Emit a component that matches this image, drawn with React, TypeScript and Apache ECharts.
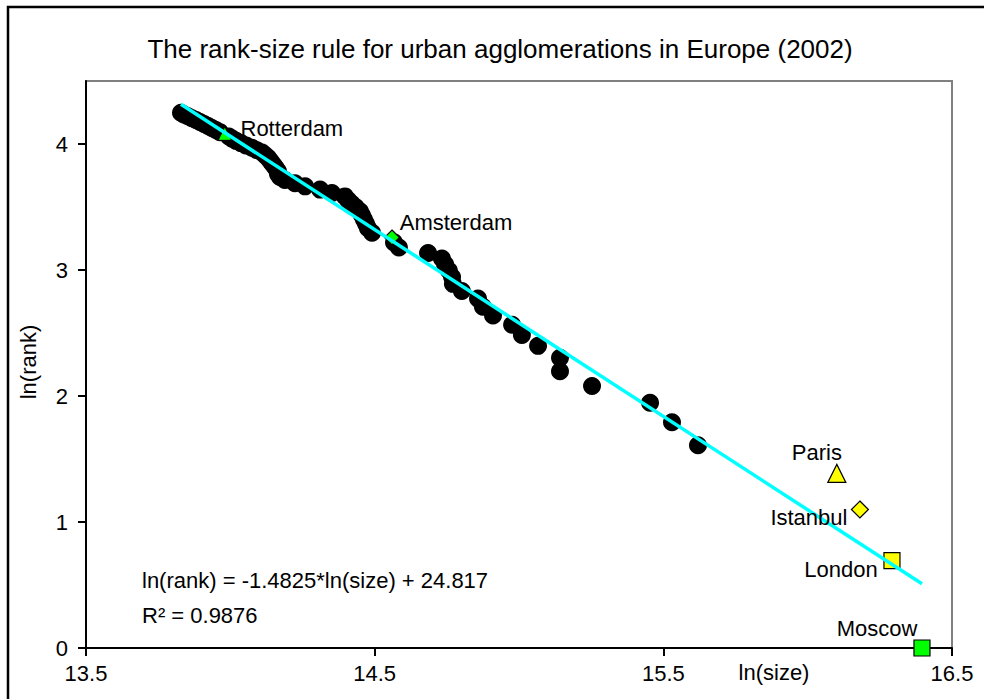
import React, { useEffect, useRef } from "react";
import * as echarts from "echarts";

// ---- data ----
const cityNames = ["Moscow", "London", "Istanbul", "Paris", "Amsterdam", "Rotterdam"];
const cityLnSize = [16.396, 16.292, 16.181, 16.101, 14.56, 13.981];
const cityLnRank = [0, 0.693, 1.099, 1.386, 3.258, 4.078];

const otherLnSize = [
  15.62, 15.53, 15.454, 15.253, 15.142, 15.142, 15.066, 15.01, 14.976, 14.91,
  14.875, 14.858, 14.802, 14.771, 14.768, 14.757, 14.744, 14.733, 14.685, 14.584,
  14.567, 14.491, 14.477, 14.47, 14.463, 14.456, 14.449, 14.435, 14.421, 14.408,
  14.397, 14.352, 14.311, 14.259, 14.224, 14.189, 14.172, 14.165, 14.165, 14.158,
  14.151, 14.144, 14.137, 14.13, 14.12, 14.11, 14.092, 14.075, 14.054, 14.037,
  14.02, 14.006, 13.995, 13.964, 13.95, 13.936, 13.923, 13.909, 13.895, 13.881,
  13.867, 13.853, 13.839, 13.829,
];
const otherLnRank = [
  1.609, 1.792, 1.946, 2.079, 2.197, 2.303, 2.398, 2.485, 2.565, 2.639,
  2.708, 2.773, 2.833, 2.89, 2.944, 2.996, 3.045, 3.091, 3.135, 3.178,
  3.219, 3.296, 3.332, 3.367, 3.401, 3.434, 3.466, 3.497, 3.526, 3.555,
  3.584, 3.611, 3.638, 3.664, 3.689, 3.714, 3.738, 3.761, 3.784, 3.807,
  3.829, 3.85, 3.871, 3.892, 3.912, 3.932, 3.951, 3.97, 3.989, 4.007,
  4.025, 4.043, 4.06, 4.094, 4.111, 4.127, 4.143, 4.159, 4.174, 4.19,
  4.205, 4.22, 4.234, 4.248,
];

const xTicks = [13.5, 14.5, 15.5, 16.5];
const yTicks = [0, 1, 2, 3, 4];

const slope = -1.4825;
const intercept = 24.817;
const rSquared = 0.9876;

const titleText = "The rank-size rule for urban agglomerations in Europe (2002)";
const xName = "ln(size)";
const yName = "ln(rank)";

// ---- styles ----
const FONT = '"Liberation Sans", Arial, sans-serif';
const cityStyle: Record<string, any> = {
  Moscow: { symbol: "rect", size: 16, color: "#00ff00", border: "#000000", dx: -45, dy: -20 },
  London: { symbol: "rect", size: 16, color: "#ffff00", border: "#000000", dx: -51, dy: 9 },
  Istanbul: { symbol: "diamond", size: 17, color: "#ffff00", border: "#000000", dx: -51, dy: 8 },
  Paris: { symbol: "triangle", size: 18, color: "#ffff00", border: "#000000", dx: -20, dy: -21 },
  Amsterdam: { symbol: "diamond", size: 15, color: "#00ff00", border: "#000000", dx: 64, dy: -15 },
  Rotterdam: { symbol: "triangle", size: 10, color: "#00ff00", border: "#00ff00", dx: 67, dy: -6 },
};

export default function App() {
  const ref = useRef<HTMLDivElement>(null);

  useEffect(() => {
    if (!ref.current) return;
    const chart = echarts.init(ref.current, undefined, { renderer: "svg" });

    const allX = [...cityLnSize, ...otherLnSize];
    const xMin = Math.min(...allX);
    const xMax = Math.max(...allX);
    const trend = [
      [xMin, slope * xMin + intercept],
      [xMax, slope * xMax + intercept],
    ];

    const others = otherLnSize.map((x, i) => [x, otherLnRank[i]]);
    const cities = cityNames.map((n, i) => {
      const s = cityStyle[n];
      return {
        name: n,
        value: [cityLnSize[i], cityLnRank[i]],
        symbol: s.symbol,
        symbolSize: s.size,
        itemStyle: { color: s.color, borderColor: s.border, borderWidth: 1.2, opacity: 1 },
      };
    });
    const cityLabels = cityNames.map((n, i) => {
      const s = cityStyle[n];
      return {
        name: n,
        value: [cityLnSize[i], cityLnRank[i]],
        label: { offset: [s.dx, s.dy] },
      };
    });

    chart.setOption({
      animation: false,
      grid: {
        left: 86,
        right: 32,
        top: 81,
        bottom: 51,
        show: true,
        borderColor: "#808080",
        borderWidth: 2,
        backgroundColor: "#ffffff",
      },
      xAxis: {
        type: "value",
        min: 13.5,
        max: 16.5,
        axisLine: { show: true, onZero: false, lineStyle: { color: "#000", width: 2 } },
        axisTick: { show: true, length: 8, inside: false, customValues: xTicks, lineStyle: { color: "#000", width: 2 } },
        axisLabel: {
          customValues: xTicks,
          color: "#000",
          fontSize: 22,
          fontFamily: FONT,
          margin: 14,
          formatter: (v: number) => v.toFixed(1),
        },
        splitLine: { show: false },
      },
      yAxis: {
        type: "value",
        min: 0,
        max: 4.5,
        axisLine: { show: true, onZero: false, lineStyle: { color: "#000", width: 2 } },
        axisTick: { show: true, length: 8, customValues: yTicks, lineStyle: { color: "#000", width: 2 } },
        axisLabel: {
          customValues: yTicks,
          color: "#000",
          fontSize: 22,
          fontFamily: FONT,
          margin: 18,
        },
        splitLine: { show: false },
      },
      series: [
        {
          type: "scatter",
          data: others,
          symbol: "circle",
          symbolSize: 18,
          itemStyle: { color: "#000000", opacity: 1 },
          silent: true,
          z: 2,
        },
        {
          type: "scatter",
          data: cities,
          silent: true,
          z: 2,
        },
        {
          type: "line",
          data: trend,
          showSymbol: false,
          symbol: "none",
          lineStyle: { color: "#00ffff", width: 3.5, opacity: 1 },
          silent: true,
          z: 3,
        },
        {
          type: "scatter",
          data: cityLabels,
          symbolSize: 0,
          itemStyle: { opacity: 1 },
          silent: true,
          z: 4,
          label: {
            show: true,
            position: "inside",
            formatter: "{b}",
            color: "#000000",
            opacity: 1,
            fontSize: 22,
            fontFamily: FONT,
          },
        },
      ],
      graphic: [
        {
          type: "rect",
          shape: { x: 8, y: 7, width: 1000, height: 1000 },
          style: { fill: "none", stroke: "#000", lineWidth: 2.5 },
          silent: true,
          z: 100,
        },
        {
          type: "text",
          x: 500,
          y: 49,
          style: { text: titleText, fill: "#000", font: `26px ${FONT}`, align: "center", verticalAlign: "middle" },
        },
        {
          type: "text",
          x: 142,
          y: 580,
          style: {
            text: `ln(rank) = ${slope}*ln(size) + ${intercept}`,
            fill: "#000",
            font: `22px ${FONT}`,
            align: "left",
            verticalAlign: "middle",
          },
        },
        {
          type: "text",
          x: 142,
          y: 615,
          style: { text: `R\u00B2 = ${rSquared}`, fill: "#000", font: `22px ${FONT}`, align: "left", verticalAlign: "middle" },
        },
        {
          type: "text",
          x: 774,
          y: 672,
          style: { text: xName, fill: "#000", font: `22px ${FONT}`, align: "center", verticalAlign: "middle" },
        },
        {
          type: "text",
          x: 28,
          y: 362,
          rotation: Math.PI / 2,
          style: { text: yName, fill: "#000", font: `22px ${FONT}`, align: "center", verticalAlign: "middle" },
        },
      ],
    });

    return () => chart.dispose();
  }, []);

  return (
    <div
      ref={ref}
      style={{ position: "absolute", left: 0, top: 0, width: 984, height: 699, background: "#fff" }}
    />
  );
}
